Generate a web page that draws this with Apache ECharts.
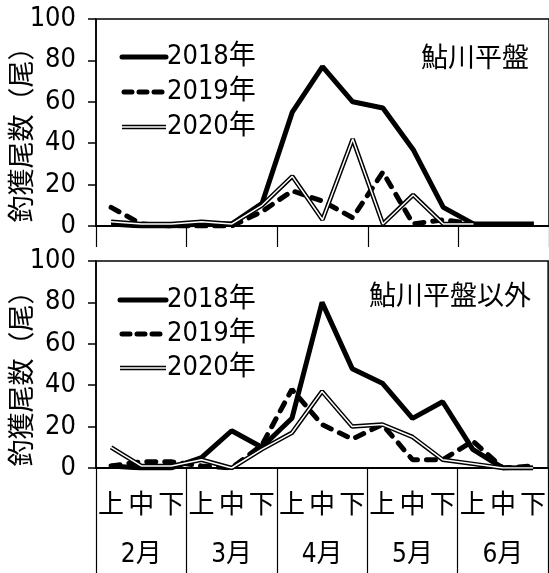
<!DOCTYPE html>
<html>
<head>
<meta charset="utf-8">
<script src="https://cdn.jsdelivr.net/npm/echarts@6/dist/echarts.min.js"></script>
<style>
html,body{margin:0;padding:0;background:#fff;}
#c{width:549px;height:573px;}
</style>
</head>
<body>
<div id="c"></div>
<script>
// ---- data ----
const months = ['2月', '3月', '4月', '5月', '6月'];
const periods = ['上', '中', '下', '上', '中', '下', '上', '中', '下', '上', '中', '下', '上', '中', '下'];
const yTicks = [0, 20, 40, 60, 80, 100];
const seriesNames = ['2018年', '2019年', '2020年'];
const panelTitles = ['鮎川平盤', '鮎川平盤以外'];
const yName = '釣獲尾数（尾）';

// 鮎川平盤
const top2018 = [1, 0, 0, 1, 1, 11, 55, 77, 60, 57, 37, 9, 1, 1, 1];
const top2019 = [9, 1, 0, 0, 0, 7, 17, 12, 4, 26, 1, 3, 1, null, null];
const top2020 = [2, 1, 1, 2, 1, 10, 24, 3, 42, 1, 15, 1, 1, null, null];
// 鮎川平盤以外
const bot2018 = [1, 0, 0, 5, 18, 10, 24, 80, 48, 41, 24, 32, 9, 0, 0];
const bot2019 = [1, 3, 3, 1, 0, 11, 38, 21, 14, 21, 4, 4, 13, 0, 1];
const bot2020 = [10, 1, 1, 4, 0, 9, 17, 37, 20, 21, 15, 4, 2, 0, 0];

const NUMFONT = "'Liberation Sans Narrow','DejaVu Sans Condensed','Noto Sans CJK JP',sans-serif";
const JPFONT = "'Noto Sans CJK JP',sans-serif";

const chart = echarts.init(document.getElementById('c'), null, {renderer: 'canvas'});

const gridL = 96, gridW = 454, gridH = 207;
const gridTops = [19, 261];

function monthTick(i) { return i % 3 === 0; }

function yAxisDef(gi) {
  return {
    type: 'value', gridIndex: gi, min: yTicks[0], max: yTicks[yTicks.length - 1], interval: 20,
    axisLine: {show: true, lineStyle: {color: '#000', width: 1.5}},
    axisTick: {show: true, inside: false, length: 8, lineStyle: {color: '#000', width: 1.5}},
    axisLabel: {show: true, margin: 20, color: '#000', fontSize: 27, fontFamily: NUMFONT,
      formatter: v => yTicks.indexOf(v) >= 0 ? String(v) : ''},
    splitLine: {show: false}
  };
}

function lineSeries(name, data, xi, yi, kind) {
  const base = {type: 'line', name: name, data: data, xAxisIndex: xi, yAxisIndex: yi,
    symbol: 'none', smooth: false, silent: true, animation: false, connectNulls: false};
  if (kind === 'solid') {
    return [Object.assign({}, base, {lineStyle: {color: '#000', width: 5}, z: 3})];
  }
  if (kind === 'dash') {
    return [Object.assign({}, base, {lineStyle: {color: '#000', width: 5, type: [9, 9], cap: 'round'}, z: 4})];
  }
  return [
    Object.assign({}, base, {lineStyle: {color: '#000', width: 4.5}, z: 5}),
    Object.assign({}, base, {name: name + '_inner', lineStyle: {color: '#fff', width: 1.5}, z: 6})
  ];
}

function legendGraphics(y0, dy, lx0, lx1) {
  const els = [];
  const kinds = ['solid', 'dash', 'double'];
  for (let k = 0; k < 3; k++) {
    const y = y0 + k * dy;
    if (kinds[k] === 'double') {
      els.push({type: 'line', shape: {x1: lx0, y1: y, x2: lx1, y2: y}, style: {stroke: '#000', lineWidth: 4.5}});
      els.push({type: 'line', shape: {x1: lx0, y1: y, x2: lx1, y2: y}, style: {stroke: '#fff', lineWidth: 1.5}});
    } else if (kinds[k] === 'dash') {
      els.push({type: 'line', shape: {x1: lx0 + 2, y1: y, x2: lx1, y2: y},
        style: {stroke: '#000', lineWidth: 5, lineDash: [8, 7], lineCap: 'round'}});
    } else {
      els.push({type: 'line', shape: {x1: lx0, y1: y, x2: lx1, y2: y}, style: {stroke: '#000', lineWidth: 5, lineCap: 'round'}});
    }
    els.push({type: 'text', x: lx1 + 1, y: y,
      style: {text: seriesNames[k], fill: '#000', font: '27px ' + NUMFONT, textAlign: 'left', textVerticalAlign: 'middle'}});
  }
  return els;
}

const option = {
  animation: false,
  backgroundColor: '#fff',
  grid: [
    {left: gridL, top: gridTops[0], width: gridW, height: gridH, show: true, borderColor: '#000', borderWidth: 1.5, backgroundColor: 'transparent'},
    {left: gridL, top: gridTops[1], width: gridW, height: gridH, show: true, borderColor: '#000', borderWidth: 1.5, backgroundColor: 'transparent'}
  ],
  xAxis: [
    {type: 'category', gridIndex: 0, data: periods, boundaryGap: true, position: 'bottom',
      axisLine: {show: true, onZero: false, lineStyle: {color: '#000', width: 2}},
      axisTick: {show: true, interval: monthTick, length: 21, alignWithLabel: false, lineStyle: {color: '#000', width: 1.2}},
      axisLabel: {show: false}, splitLine: {show: false}},
    {type: 'category', gridIndex: 1, data: periods, boundaryGap: true, position: 'bottom',
      axisLine: {show: true, onZero: false, lineStyle: {color: '#000', width: 2}},
      axisTick: {show: true, interval: monthTick, length: 106, alignWithLabel: false, lineStyle: {color: '#000', width: 1.2}},
      axisLabel: {show: true, interval: 0, margin: 22, color: '#000', fontSize: 26, fontFamily: JPFONT},
      splitLine: {show: false}},
    {type: 'category', gridIndex: 1, data: months, boundaryGap: true, position: 'bottom', offset: 0,
      axisLine: {show: false}, axisTick: {show: false},
      axisLabel: {show: true, interval: 0, margin: 74, color: '#000', fontSize: 26, fontFamily: NUMFONT},
      splitLine: {show: false}}
  ],
  yAxis: [yAxisDef(0), yAxisDef(1)],
  series: [].concat(
    lineSeries(seriesNames[0], top2018, 0, 0, 'solid'),
    lineSeries(seriesNames[1], top2019, 0, 0, 'dash'),
    lineSeries(seriesNames[2], top2020, 0, 0, 'double'),
    lineSeries(seriesNames[0], bot2018, 1, 1, 'solid'),
    lineSeries(seriesNames[1], bot2019, 1, 1, 'dash'),
    lineSeries(seriesNames[2], bot2020, 1, 1, 'double')
  ),
  graphic: [].concat(
    legendGraphics(57, 35, 122, 166),
    legendGraphics(300, 34, 120, 166),
    [
      {type: 'text', x: 529, y: 57, style: {text: panelTitles[0], fill: '#000', font: '27px ' + JPFONT, textAlign: 'right', textVerticalAlign: 'middle'}},
      {type: 'text', x: 531, y: 295, style: {text: panelTitles[1], fill: '#000', font: '27px ' + JPFONT, textAlign: 'right', textVerticalAlign: 'middle'}},
      {type: 'text', x: 21, y: 128, rotation: Math.PI / 2, style: {text: yName, fill: '#000', font: '27px ' + JPFONT, textAlign: 'center', textVerticalAlign: 'middle'}},
      {type: 'text', x: 21, y: 372, rotation: Math.PI / 2, style: {text: yName, fill: '#000', font: '27px ' + JPFONT, textAlign: 'center', textVerticalAlign: 'middle'}}
    ]
  )
};
chart.setOption(option);
</script>
</body>
</html>
